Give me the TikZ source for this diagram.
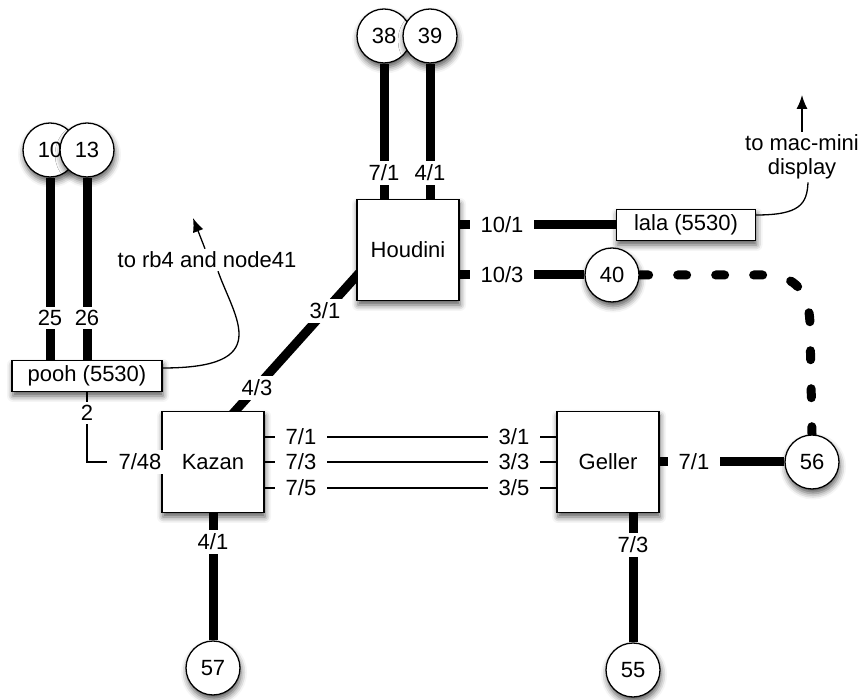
\documentclass[tikz,border=0pt]{standalone}
\usepackage{fontspec}
\setmainfont{Liberation Sans}
\usetikzlibrary{shadows.blur,arrows.meta,calc}
\pgfdeclarelayer{bg}
\pgfsetlayers{bg,main}
\begin{document}
\begin{tikzpicture}[x=1pt,y=1pt,
  every node/.style={font=\fontsize{22}{24}\selectfont},
  shad/.style={blur shadow={shadow xshift=1pt,shadow yshift=-4.5pt,shadow blur radius=6pt,shadow opacity=65}},
  sw/.style={draw,line width=1.3pt,fill=white,minimum width=102pt,minimum height=101pt,inner sep=0pt,shad},
  host/.style={draw,circle,line width=1.3pt,fill=white,minimum size=54pt,inner sep=0pt,shad},
  nic/.style={draw,line width=1.3pt,fill=white,minimum height=31pt,inner sep=0pt,shad},
  port/.style={fill=white,inner xsep=11pt,inner ysep=3.5pt},
  biglink/.style={line width=9pt},
  smalllink/.style={line width=1.3pt},
  note/.style={fill=white,inner sep=3pt,align=center},
  tip/.style={-{Latex[length=14pt,width=11pt]}},
]
\useasboundingbox (0,0) rectangle (864,699);
% boxes
\node[sw] (houdini) at (408,449) {Houdini};
\node[sw] (kazan) at (213,237) {Kazan};
\node[sw] (geller) at (608,237) {Geller};
\node[nic,minimum width=150pt] (pooh) at (87,323) {pooh (5530)};
\node[nic,minimum width=139pt] (lala) at (686,474) {lala (5530)};
% hosts
\node[host] (h10) at (50,549) {10};
\node[host] (h13) at (87,549) {13};
\node[host] (h38) at (384,663) {38};
\node[host] (h39) at (430,663) {39};
\node[host] (h40) at (612,424) {40};
\node[host] (h56) at (812,237) {56};
\node[host] (h57) at (213,31) {57};
\node[host] (h55) at (633,29) {55};
% port labels
\node[port] (p25) at (50,381) {25};
\node[port] (p26) at (87,381) {26};
\node[port] (p2) at (87,286) {2};
\node[port] (p748) at (140,237) {7/48};
\node[port] (p43) at (257,311) {4/3};
\node[port] (p31h) at (325,388) {3/1};
\node[port] (ph71) at (384,526) {7/1};
\node[port] (ph41) at (430,526) {4/1};
\node[port] (p101) at (502,474) {10/1};
\node[port] (p103) at (502,424) {10/3};
\node[port] (pk71) at (301,262) {7/1};
\node[port] (pk73) at (301,237) {7/3};
\node[port] (pk75) at (301,211) {7/5};
\node[port] (pg31) at (514,262) {3/1};
\node[port] (pg33) at (514,237) {3/3};
\node[port] (pg35) at (514,211) {3/5};
\node[port] (pg71) at (694,237) {7/1};
\node[port] (pk41) at (213,157) {4/1};
\node[port] (pg73) at (633,154) {7/3};
% notes
\node[note] (rbnote) at (207,439) {to rb4 and node41};
\node[note] (macnote) at (802,542) {to mac-mini\\display};
\coordinate (rbtip) at (193,481);
\coordinate (mactip) at (802,604);
\begin{pgfonlayer}{bg}
\draw[biglink] (h10) -- (h10 |- pooh.north);
\draw[biglink] (h13) -- (pooh.north);
\draw[biglink] (h38) -- (h38 |- houdini.north);
\draw[biglink] (h39) -- (h39 |- houdini.north);
\draw[biglink] (houdini.east |- p101) -- (lala.west);
\draw[biglink] (houdini.east |- p103) -- (h40);
\draw[biglink,shorten <=-6pt,shorten >=-6pt] ($(kazan.north west)+(74,0)$) -- ($(houdini.south west)+(0,25)$);
\draw[smalllink] (kazan.east |- pk71) -- (geller.west |- pg31);
\draw[smalllink] (kazan.east |- pk73) -- (geller.west |- pg33);
\draw[smalllink] (kazan.east |- pk75) -- (geller.west |- pg35);
\draw[biglink] (geller.east) -- (h56);
\draw[biglink] (kazan.south) -- (h57);
\draw[biglink] (h55 |- geller.south) -- (h55);
\draw[smalllink] (pooh.south) |- (p748.west);
\draw[smalllink] ($(pooh.east)+(0,8)$) .. controls (275,331) and (235,380) .. ($(rbnote.south)+(11,0)$);
\draw[smalllink,tip] ($(rbnote.north)+(-2,0)$) -- (rbtip);
\draw[smalllink] ($(lala.east)+(0,10)$) .. controls (800,484) and (807,495) .. ($(macnote.south)+(6,0)$);
\draw[smalllink,tip] (macnote.north) -- (mactip);
\draw[line width=9pt,line cap=round,dash pattern=on 9pt off 29pt] (h40.east) -- (765,424) .. controls (797,424) and (810,405) .. (810,372) -- (h56.north);
\end{pgfonlayer}
\end{tikzpicture}
\end{document}
